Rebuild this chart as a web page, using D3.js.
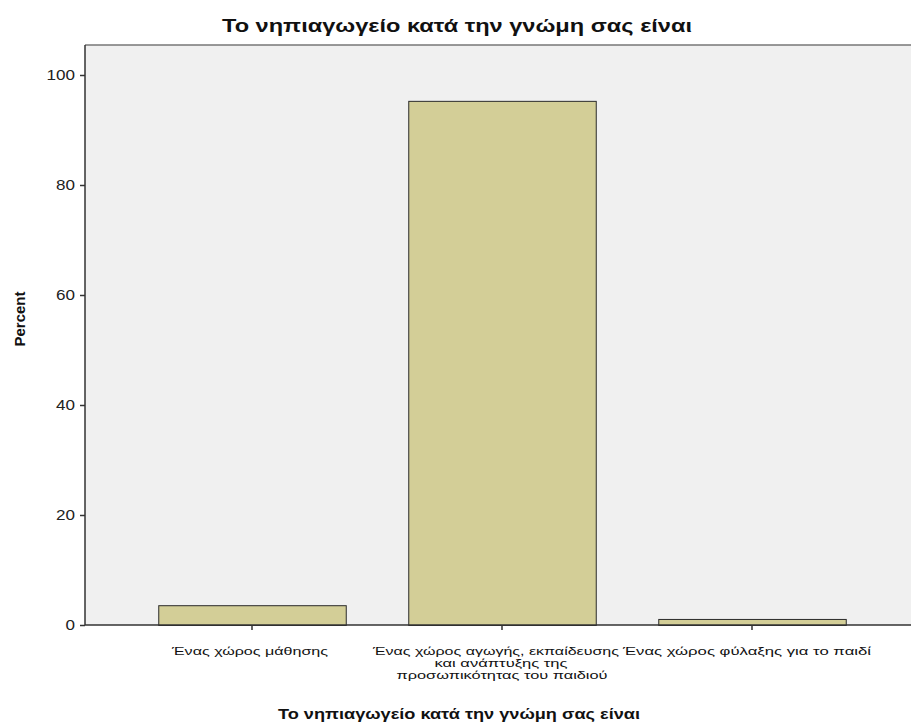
<!DOCTYPE html>
<html><head><meta charset="utf-8">
<script src="https://cdn.jsdelivr.net/npm/d3@7"></script>
<style>body{margin:0;background:#fff}svg{display:block}</style>
</head><body>
<svg id="c" width="911" height="726"></svg>
<script>
const categories = [
  ["Ένας χώρος μάθησης"],
  ["Ένας χώρος αγωγής, εκπαίδευσης", "και ανάπτυξης της", "προσωπικότητας του παιδιού"],
  ["Ένας χώρος φύλαξης για το παιδί"]
];
const percentValues = [3.6, 95.3, 1.1];
const yTicks = [0, 20, 40, 60, 80, 100];
const titleText = "Το νηπιαγωγείο κατά την γνώμη σας είναι";
const yTitle = "Percent";

// layout (widths of the horizontally stretched reference text)
const labelLayout = [
  [{ w: 156, dx: -2 }],
  [{ w: 246, dx: -6 }, { w: 133, dx: -1 }, { w: 211, dx: 0 }],
  [{ w: 248, dx: -5 }]
];

const svg = d3.select("#c");
const font = "'Liberation Sans', Arial, sans-serif";
const L = 85, R = 911, T = 45, B = 625;
const keys = categories.map(c => c.join(" "));
const x = d3.scaleBand().domain(keys).range([127, 877]).paddingInner(0.25).paddingOuter(0.125);
const y = d3.scaleLinear().domain([0, 100]).range([B, 75]);

function widen(sel, k) {
  sel.each(function () {
    const w = this.getComputedTextLength();
    d3.select(this).attr("textLength", w * k).attr("lengthAdjust", "spacingAndGlyphs");
  });
}

svg.append("rect").attr("x", L).attr("y", T).attr("width", R - L).attr("height", B - T).attr("fill", "#f0f0f0");
svg.append("line").attr("x1", L).attr("x2", R).attr("y1", T).attr("y2", T).attr("stroke", "#777").attr("stroke-width", 1.5);

svg.append("g").selectAll("rect").data(percentValues).join("rect")
  .attr("x", (d, i) => x(keys[i]) + 0.5)
  .attr("y", d => y(d) + 0.5)
  .attr("width", x.bandwidth())
  .attr("height", d => B - y(d))
  .attr("fill", "#d3ce97").attr("stroke", "#2b2b2b").attr("stroke-width", 1);

const yAxis = svg.append("g").attr("transform", `translate(${L},0)`)
  .call(d3.axisLeft(y).tickValues(yTicks).tickSize(5).tickPadding(5));
yAxis.select(".domain").attr("d", `M0,${T}V${B}`);
const xAxis = svg.append("g").attr("transform", `translate(0,${B})`)
  .call(d3.axisBottom(x).tickSize(5).tickFormat(""));
xAxis.select(".domain").attr("d", `M${L},0H${R}`);
[yAxis, xAxis].forEach(a => {
  a.selectAll(".domain").attr("stroke", "#333").attr("stroke-width", 1.5);
  a.selectAll(".tick line").attr("stroke", "#333").attr("stroke-width", 1.5);
});
yAxis.selectAll(".tick text").attr("font-family", font).attr("font-size", 14).attr("fill", "#222")
  .call(widen, 1.22);

const lab = svg.append("g").attr("font-family", font).attr("font-size", 11.5).attr("fill", "#111").attr("text-anchor", "middle");
categories.forEach((lines, i) => {
  const cx = x(keys[i]) + x.bandwidth() / 2;
  lines.forEach((s, j) => {
    const lay = labelLayout[i][j];
    lab.append("text").attr("x", cx + lay.dx).attr("y", 655 + j * 12).text(s)
      .attr("textLength", lay.w).attr("lengthAdjust", "spacingAndGlyphs");
  });
});

svg.append("text").attr("x", 457).attr("y", 32).attr("text-anchor", "middle")
  .attr("font-family", font).attr("font-weight", "bold").attr("font-size", 18).attr("fill", "#111").text(titleText)
  .attr("textLength", 470).attr("lengthAdjust", "spacingAndGlyphs");
svg.append("text").attr("x", 459).attr("y", 719).attr("text-anchor", "middle")
  .attr("font-family", font).attr("font-weight", "bold").attr("font-size", 15.5).attr("fill", "#111").text(titleText)
  .attr("textLength", 362).attr("lengthAdjust", "spacingAndGlyphs");
svg.append("text").attr("transform", "translate(25,319) rotate(-90)").attr("text-anchor", "middle")
  .attr("font-family", font).attr("font-weight", "bold").attr("font-size", 15).attr("fill", "#111").text(yTitle);
</script>
</body></html>
